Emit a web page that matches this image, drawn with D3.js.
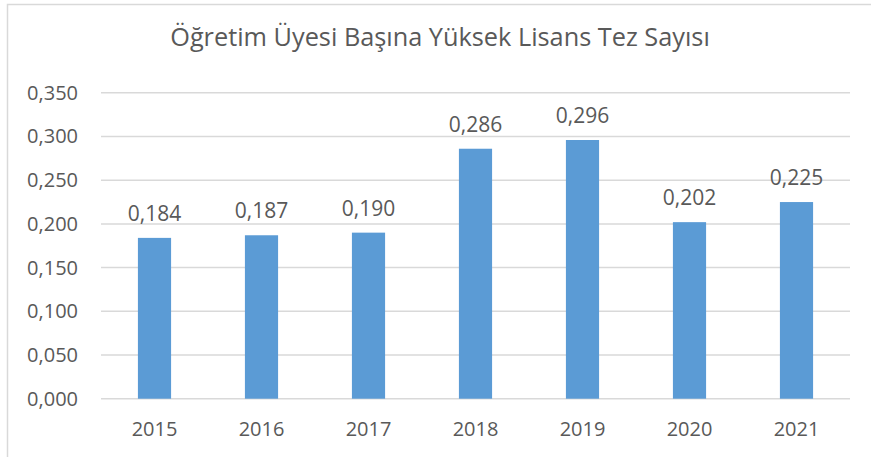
<!DOCTYPE HTML>
<html>
  <head>
    <meta charset="utf-8">
    <style>
      body {
        margin: 0px;
        background: #ffffff;
      }
    </style>
  </head>
  <body>

    <script src="https://cdn.jsdelivr.net/npm/d3@7"></script>

    <script>

      // *** DATA ***
      var years = ["2015", "2016", "2017", "2018", "2019", "2020", "2021"];
      var values = [0.184, 0.187, 0.190, 0.286, 0.296, 0.202, 0.225];
      var yTicks = [0, 0.05, 0.10, 0.15, 0.20, 0.25, 0.30, 0.35];
      var title = "Öğretim Üyesi Başına Yüksek Lisans Tez Sayısı";

      var W = 871, H = 457;
      var plot = {left: 101, right: 850, top: 92.8, bottom: 398.7};
      var font = "'Open Sans', 'DejaVu Sans', sans-serif";
      var textColor = "#595959";

      // format 0.184 -> "0,184"
      function fmt(v){
        return d3.format(".3f")(v).replace(".", ",");
      }

      var svg = d3.select("body").append("svg")
        .attr("width", W)
        .attr("height", H);

      // chart border (only top and left visible in the picture)
      svg.append("rect")
        .attr("x", 7.5).attr("y", 4.5)
        .attr("width", W + 10).attr("height", H + 10)
        .style("fill", "none")
        .style("stroke", "#d9d9d9")
        .style("stroke-width", 1.5);

      // scales
      var x = d3.scaleBand()
        .domain(years)
        .range([plot.left, plot.right])
        .paddingInner(0.69)
        .paddingOuter(0.345);

      var y = d3.scaleLinear()
        .domain([0, 0.35])
        .range([plot.bottom, plot.top]);

      // gridlines
      svg.append("g").selectAll("line").data(yTicks)
        .enter()
        .append("line")
          .attr("x1", plot.left)
          .attr("x2", plot.right)
          .attr("y1", function(d){return y(d)})
          .attr("y2", function(d){return y(d)})
          .style("stroke", "#d9d9d9")
          .style("stroke-width", 1.5);

      // y axis labels
      var yAxis = d3.axisLeft(y)
        .tickValues(yTicks)
        .tickFormat(fmt)
        .tickSize(0)
        .tickPadding(23);
      var yg = svg.append("g")
        .attr("transform", "translate(" + plot.left + ",0)")
        .call(yAxis);
      yg.select(".domain").remove();
      yg.selectAll("text")
        .style("font-family", font)
        .style("font-size", "20px")
        .style("fill", textColor);

      // x axis labels
      var xAxis = d3.axisBottom(x).tickSize(0).tickPadding(23);
      var xg = svg.append("g")
        .attr("transform", "translate(0," + plot.bottom + ")")
        .call(xAxis);
      xg.select(".domain").remove();
      xg.selectAll("text")
        .style("font-family", font)
        .style("font-size", "20px")
        .style("fill", textColor);

      // bars
      svg.append("g").selectAll("rect").data(values)
        .enter()
        .append("rect")
          .attr("x", function(d, i){return x(years[i])})
          .attr("y", function(d){return y(d)})
          .attr("width", x.bandwidth())
          .attr("height", function(d){return y(0) - y(d)})
          .style("fill", "#5b9bd5");

      // value labels
      svg.append("g").selectAll("text").data(values)
        .enter()
        .append("text")
          .attr("x", function(d, i){return x(years[i]) + x.bandwidth()/2})
          .attr("y", function(d){return y(d) - 17})
          .style("font-family", font)
          .style("font-size", "21px")
          .style("fill", textColor)
          .style("text-anchor", "middle")
          .text(function(d){return fmt(d)});

      // title, sized to fill the same width as in the picture
      var t = svg.append("text")
        .attr("x", 440)
        .attr("y", 46)
        .style("font-family", font)
        .style("font-size", "24px")
        .style("fill", textColor)
        .style("text-anchor", "middle")
        .text(title);
      var len = t.node().getComputedTextLength();
      t.style("font-size", (24 * 540 / len) + "px");

    </script>

  </body>
</html>
